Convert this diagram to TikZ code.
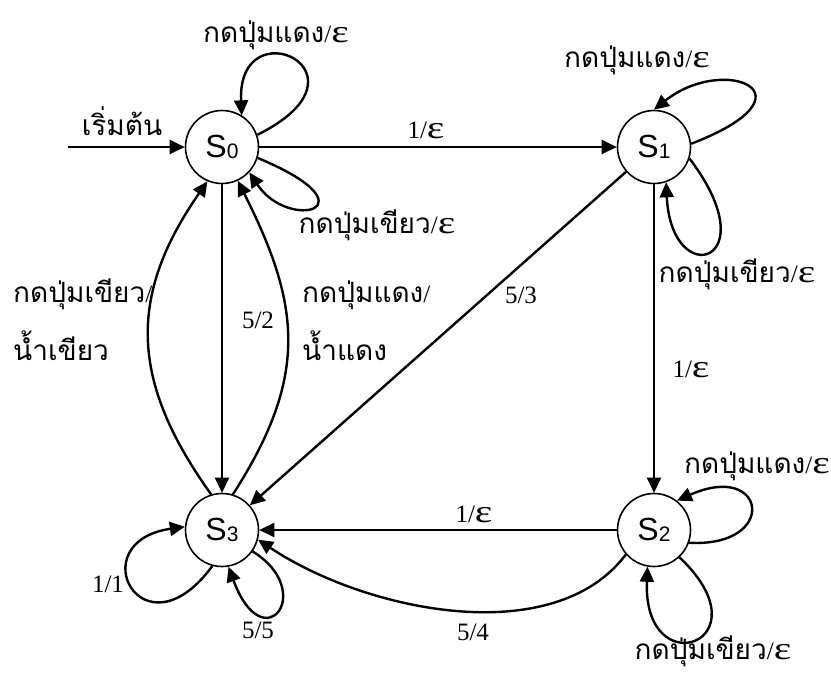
\documentclass[tikz,border=0pt]{standalone}
\usepackage{fontspec}
\usepackage{graphicx}
\usetikzlibrary{arrows.meta}
\newfontfamily\thaifont[Script=Thai]{Loma}
\newfontfamily\serifnum{Liberation Serif}
\newfontfamily\statefont{Liberation Sans}
\newcommand\eps{{\serifnum\fontsize{32}{32}\selectfont\scalebox{1.3}[1]{ε}}}
\newcommand\tsl{{\serifnum\fontsize{25}{25}\selectfont/}}
\newcommand\slasheps{\tsl\eps}
\newcommand\stname[1]{S\raisebox{-1.5pt}{\fontsize{21}{21}\selectfont #1}}
\tikzset{
  state/.style={circle,draw,line width=1.6pt,minimum size=73pt,inner sep=0pt,
    font=\statefont\fontsize{32}{32}\selectfont},
  edge/.style={line width=2.4pt,-{Triangle[length=15pt,width=14pt]}},
  thlab/.style={inner sep=0pt,anchor=base,font=\thaifont\fontsize{28}{28}\selectfont},
  numlab/.style={inner sep=0pt,anchor=base,font=\serifnum\fontsize{25}{25}\selectfont},
}
\begin{document}
\begin{tikzpicture}[x=1pt,y=-1pt]
\path[use as bounding box,fill=white] (0,0) rectangle (831,673);

\node[state] (S0) at (222,147) {\stname{0}};
\node[state] (S1) at (654,147) {\stname{1}};
\node[state] (S2) at (654,530) {\stname{2}};
\node[state] (S3) at (222,530) {\stname{3}};
\coordinate (start) at (68,147);

% straight connectors
\draw[edge] (start) -- (S0);
\draw[edge] (S0) -- (S1);
\draw[edge] (S1) -- (S2);
\draw[edge] (S2) -- (S3);
\draw[edge] (S1) -- (S3);
\draw[edge] (S0) -- (S3);

% curved connectors between S0 and S3, S2 and S3
\draw[edge] (S3.107) .. controls +(-81,-113) and +(-80,115) .. (S0.247);
\draw[edge] (S3.73) .. controls +(76,-118) and +(63,125) .. (S0.-65);
\draw[edge] (S2.221) .. controls +(-72,96) and +(108,72) .. (S3.-15);

% self loops
\draw[edge] (S0.19) .. controls +(125,-62) and +(-5,-110) .. (S0.58);
\draw[edge] (S0.-17) .. controls +(120,50) and +(40,60) .. (S0.-43);
\draw[edge] (S1.5) .. controls +(130,-50) and +(70,-56) .. (S1.90);
\draw[edge] (S1.-18) .. controls +(80,105) and +(5,110) .. (S1.-71);
\draw[edge] (S2.-20) .. controls +(90,5) and +(90,-40) .. (S2.52);
\draw[edge] (S2.-47) .. controls +(90,85) and +(-5,120) .. (S2.-100);
\draw[edge] (S3.-105) .. controls +(-70,95) and +(-105,15) .. (S3.175);
\draw[edge] (S3.-35) .. controls +(65,40) and +(35,95) .. (S3.-80);

% labels
\node[thlab] (lstart) at (122,135) {เริ่มต้น};
\node[thlab] (l0top) at (276,42) {กดปุ่มแดง\slasheps};
\node[thlab] (l0low) at (377,233) {กดปุ่มเขียว\slasheps};
\node[numlab] (l01) at (426,138) {1/\eps};
\node[thlab] (l1top) at (637,67) {กดปุ่มแดง\slasheps};
\node[thlab] (l1low) at (737,282) {กดปุ่มเขียว\slasheps};
\node[numlab] (l12) at (691,377) {1/\eps};
\node[numlab] (l13) at (521,303) {5/3};
\node[thlab] (l2top) at (757,473) {กดปุ่มแดง\slasheps};
\node[numlab] (l23) at (474,522) {1/\eps};
\node[thlab] (l2low) at (713,659) {กดปุ่มเขียว\slasheps};
\node[numlab] (l23b) at (473,640) {5/4};
\node[numlab] (l33b) at (258,638) {5/5};
\node[numlab] (l33a) at (108,592) {1/1};
\node[numlab] (l03) at (258,328) {5/2};
\node[thlab,anchor=base west] (lg1) at (13,302) {กดปุ่มเขียว\tsl};
\node[thlab,anchor=base west] (lg2) at (13,360) {น้ำเขียว};
\node[thlab,anchor=base west] (lr1) at (302,302) {กดปุ่มแดง\tsl};
\node[thlab,anchor=base west] (lr2) at (302,360) {น้ำแดง};
\end{tikzpicture}
\end{document}
